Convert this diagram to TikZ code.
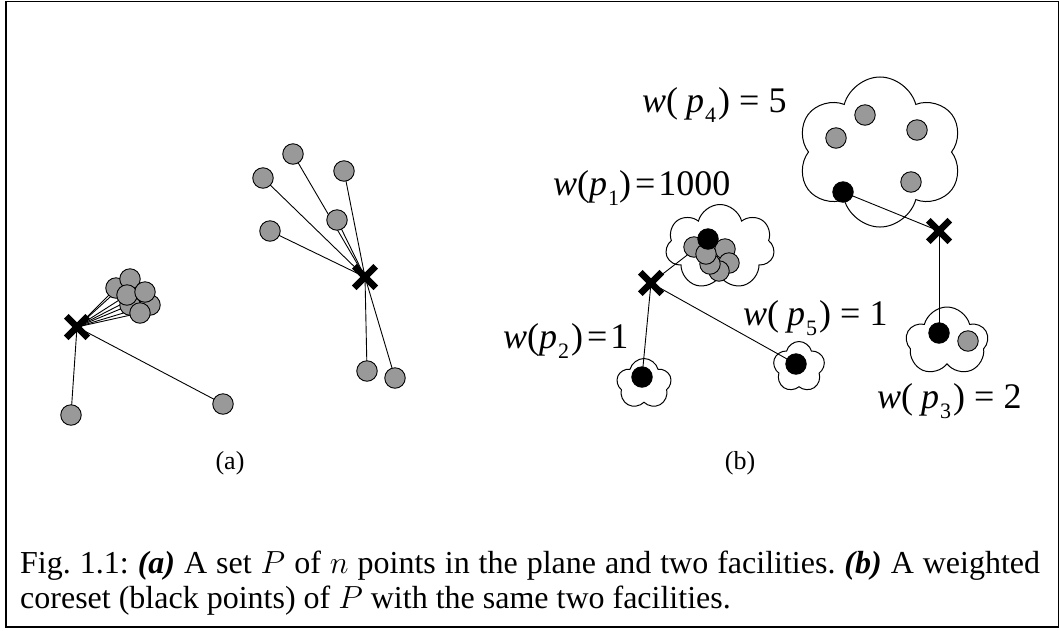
\RequirePackage{fix-cm}
\documentclass[tikz,border=0pt]{standalone}
\usepackage{fontspec}
\setmainfont{Liberation Serif}
\usetikzlibrary{shapes.misc,shapes.symbols}
\pgfdeclarelayer{cl}
\pgfdeclarelayer{bg}
\pgfsetlayers{cl,bg,main}
\newcommand\sbs[1]{\raisebox{-10pt}{\fontsize{22}{22}\selectfont #1}}
\frenchspacing
\begin{document}
\begin{tikzpicture}[x=1pt,y=-1pt,
  pt/.style={circle,draw,line width=0.9pt,fill=black!40,minimum size=20.5pt,inner sep=0},
  bpt/.style={circle,draw,line width=0.9pt,fill=black,minimum size=20.5pt,inner sep=0},
  fac/.style={draw,cross out,line width=6.5pt,minimum size=15pt,inner sep=0},
  link/.style={line width=0.9pt},
  cld/.style={cloud,draw,line width=1pt,inner sep=0,cloud ignores aspect},
  lbl/.style={inner sep=0,anchor=base west,font=\fontsize{36}{36}\selectfont},
  sub/.style={inner sep=0,font=\fontsize{26}{26}\selectfont}]
\useasboundingbox (0,0) rectangle (1060,630);
\draw[line width=1.3pt] (6,1.5) rectangle (1058.5,627);

% ---------- (a)
\node[fac] (a1) at (77,327) {};
\node[pt] (ka) at (71,415) {};
\node[pt] (kb) at (223,404) {};
\node[pt] (k1) at (116,288) {};
\node[pt] (k5) at (150,305) {};
\node[pt] (k6) at (130,305) {};
\node[pt] (k2) at (130,279) {};
\node[pt] (k4) at (127,295) {};
\node[pt] (k3) at (145,292) {};
\node[pt] (k7) at (140,313) {};

\node[fac] (a2) at (365,277) {};
\node[pt] (m1) at (293,154) {};
\node[pt] (m2) at (263,178) {};
\node[pt] (m3) at (344,171) {};
\node[pt] (m4) at (337,220) {};
\node[pt] (m5) at (270,231) {};
\node[pt] (m6) at (367,371) {};
\node[pt] (m7) at (395,378) {};

\begin{pgfonlayer}{bg}
\foreach \q in {ka,kb,k1,k2,k3,k4,k5,k6,k7} \draw[link] (a1.center) -- (\q.center);
\foreach \q in {m1,m2,m3,m4,m5,m6,m7} \draw[link] (a2.center) -- (\q.center);
\end{pgfonlayer}

\node[sub] (la) at (230,463) {(a)};

% ---------- (b)
\begin{pgfonlayer}{cl}
\node[cld,cloud puffs=6,minimum width=166pt,minimum height=150pt] (c4) at (880,152) {};
\node[cld,cloud puffs=7,minimum width=109pt,minimum height=85pt] (c1) at (720,247) {};
\node[cld,cloud puffs=5,minimum width=55pt,minimum height=51pt] (c2) at (644,384) {};
\node[cld,cloud puffs=5,minimum width=52pt,minimum height=51pt] (c5) at (799,367) {};
\node[cld,cloud puffs=5,minimum width=82pt,minimum height=70pt] (c3) at (947,342) {};
\end{pgfonlayer}

\node[fac] (b1) at (651,283) {};
\node[fac] (b2) at (939,231) {};

\node[pt] (g1) at (694,247) {};
\node[pt] (g2) at (725,249) {};
\node[pt] (g3) at (729,263) {};
\node[pt] (g4) at (719,271) {};
\node[pt] (g5) at (710,264) {};
\node[pt] (g6) at (706,254) {};
\node[bpt] (p1) at (708,239) {};
\node[bpt] (p2) at (642,377) {};
\node[bpt] (p5) at (796,364) {};
\node[pt] (h1) at (865,115) {};
\node[pt] (h2) at (836,138) {};
\node[pt] (h3) at (917,130) {};
\node[pt] (h4) at (911,182) {};
\node[bpt] (p4) at (843,192) {};
\node[bpt] (p3) at (939,333) {};
\node[pt] (h5) at (968,341) {};

\begin{pgfonlayer}{bg}
\foreach \q in {p1,p2,p5} \draw[link] (b1.center) -- (\q.center);
\foreach \q in {p4,p3} \draw[link] (b2.center) -- (\q.center);
\end{pgfonlayer}

\node[lbl] (l4) at (642,112) {\textit{w}(\hspace{8pt}\textit{p}\hspace{1pt}\sbs{4}\hspace{2pt}) = 5};
\node[lbl] (l1) at (553,195) {\textit{w}(\textit{p}\hspace{1pt}\sbs{1})\hspace{4pt}=\hspace{3pt}1000};
\node[lbl] (l2) at (503,348) {\textit{w}(\textit{p}\hspace{1pt}\sbs{2}\hspace{2pt})\hspace{4pt}=\hspace{3pt}1};
\node[lbl] (l5) at (743,325) {\textit{w}(\hspace{8pt}\textit{p}\hspace{1pt}\sbs{5}\hspace{2pt}) = 1};
\node[lbl] (l3) at (877,408) {\textit{w}(\hspace{8pt}\textit{p}\hspace{1pt}\sbs{3}\hspace{2pt}) = 2};

\node[sub] (lb) at (740,463) {(b)};

% ---------- caption
\node[anchor=north west,inner sep=0,text width=1020pt,align=justify,
      font=\fontsize{32}{35}\selectfont] (cap) at (20,551)
 {Fig. 1.1: \textbf{\textit{(a)}} A set $P$ of $n$ points in the plane and two facilities. \textbf{\textit{(b)}} A weighted\linebreak coreset (black points) of $P$ with the same two facilities.};
\end{tikzpicture}
\end{document}
